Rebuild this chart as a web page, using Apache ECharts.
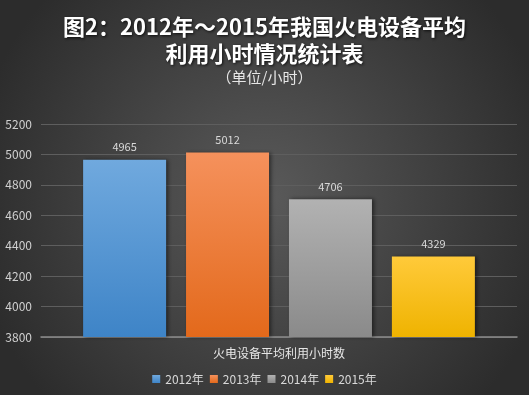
<!DOCTYPE html>
<html><head><meta charset="utf-8">
<script src="https://cdn.jsdelivr.net/npm/echarts@6/dist/echarts.min.js"></script>
<style>html,body{margin:0;padding:0;}#c{width:529px;height:395px;}</style>
</head><body><div id="c"></div>
<script>
var categories = ['火电设备平均利用小时数'];
var years = ['2012年','2013年','2014年','2015年'];
var values2012 = [4965];
var values2013 = [5012];
var values2014 = [4706];
var values2015 = [4329];
var yTicks = [3800, 5200, 200];
var colors = [['#70a9de','#3e84c7'],['#f5915c','#e3691b'],['#b2b2b2','#8a8a8a'],['#ffca3a','#efb300']];
var seriesData = [values2012, values2013, values2014, values2015];
var chart = echarts.init(document.getElementById('c'));
var font = '"Microsoft YaHei","Noto Sans CJK SC",sans-serif';
chart.setOption({
  backgroundColor: {type:'radial', x:0.5, y:0.5, r:0.75, colorStops:[{offset:0,color:'#5a5a5a'},{offset:1,color:'#2c2c2c'}]},
  title: [{
    text: '图2：2012年～2015年我国火电设备平均\n利用小时情况统计表',
    left: 'center', top: 8,
    textStyle: {color:'#ffffff', fontSize:22, fontWeight:'bold', lineHeight:27, fontFamily:font, textShadowColor:'rgba(0,0,0,0.8)', textShadowBlur:3, textShadowOffsetX:1, textShadowOffsetY:1}
  },{
    text: '（单位/小时）', left:'center', top: 65,
    textStyle: {color:'#e6e6e6', fontSize:15, fontWeight:'normal', fontFamily:font}
  }],
  legend: {
    bottom: 5, left:'center', itemWidth:8, itemHeight:8, itemGap:6, icon:'rect',
    textStyle:{color:'#d9d9d9', fontSize:12, fontFamily:font}
  },
  grid: {left:41, right:12, top:124, bottom:58, containLabel:false},
  xAxis: {
    type:'category', data: categories,
    axisLine:{lineStyle:{color:'#8c8c8c', width:1.5}},
    axisTick:{show:false},
    axisLabel:{color:'#e6e6e6', fontSize:12, margin:10, fontFamily:font}
  },
  yAxis: {
    type:'value', min: yTicks[0], max: yTicks[1], interval: yTicks[2],
    axisLine:{show:false}, axisTick:{show:false},
    axisLabel:{color:'#d0d0d0', fontSize:12, margin:9, fontFamily:font, formatter: function(v){return String(v);}},
    splitLine:{lineStyle:{color:'#5e5e5e', width:1}}
  },
  series: seriesData.map(function(d,i){
    return {
      name: years[i], type:'bar', data:d, barWidth:83, barGap:'24%',
      itemStyle:{color:{type:'linear',x:0,y:0,x2:0,y2:1,colorStops:[{offset:0,color:colors[i][0]},{offset:1,color:colors[i][1]}]},
        shadowColor:'rgba(0,0,0,0.5)', shadowBlur:4, shadowOffsetX:2, shadowOffsetY:0},
      label:{show:true, position:'top', distance:7, color:'#d9d9d9', fontSize:11, fontFamily:font}
    };
  })
});
</script></body></html>
